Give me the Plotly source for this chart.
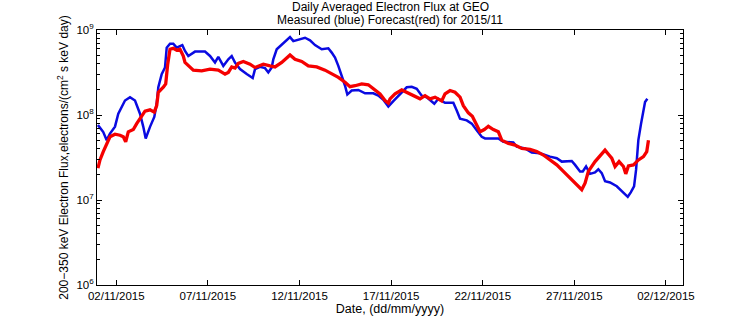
import pandas as pd
import plotly.graph_objects as go

# Day-of-month positions (November 2015, 1.0 = 01/11 00:00) and flux values
blue_day = [1.0, 1.29, 1.476, 1.656, 1.929, 2.109, 2.475, 2.748, 3.021, 3.294, 3.474, 3.605, 3.84, 4.074,
            4.205, 4.293, 4.478, 4.658, 4.751, 4.931, 5.111, 5.297, 5.477, 5.603, 5.75, 5.93, 6.296, 6.842,
            7.115, 7.388, 7.568, 7.841, 8.114, 8.299, 8.479, 8.752, 9.118, 9.445, 9.571, 9.844, 10.117,
            10.297, 10.483, 10.57, 10.756, 11.028, 11.301, 11.481, 11.662, 11.935, 12.3, 12.573, 12.846,
            13.212, 13.572, 13.758, 13.938, 14.118, 14.304, 14.484, 14.609, 14.849, 15.21, 15.576, 16.029,
            16.301, 16.574, 16.847, 17.12, 17.489, 17.852, 18.125, 18.398, 18.671, 18.943, 19.358, 19.576,
            19.942, 20.395, 20.581, 20.761, 21.127, 21.4, 21.672, 21.945, 22.126, 22.852, 23.125, 23.67,
            23.856, 24.309, 24.675, 25.128, 25.674, 26.04, 26.313, 26.585, 26.858, 27.038, 27.311, 27.459,
            27.639, 27.857, 28.13, 28.31, 28.496, 28.676, 28.949, 29.315, 29.675, 29.915, 30.079, 30.259,
            30.368, 30.493, 30.641, 30.766, 30.859, 30.984]
blue_flux = [7.6e7, 6.3e7, 5.06e7, 6.05e7, 7.3e7, 1.035e8, 1.48e8, 1.62e8, 1.48e8, 1.035e8, 7.25e7, 5.3e7,
             7.25e7, 9.5e7, 1.355e8, 2.12e8, 3.03e8, 3.62e8, 6.2e8, 6.9e8, 6.9e8, 6.2e8, 6.47e8, 6.65e8,
             5.66e8, 4.95e8, 5.57e8, 5.57e8, 4.95e8, 4.15e8, 4.82e8, 3.78e8, 4.53e8, 4.95e8, 4.15e8, 3.47e8,
             3.03e8, 2.72e8, 3.47e8, 3.68e8, 3.56e8, 3.17e8, 3.62e8, 4.53e8, 5.93e8, 6.78e8, 7.55e8, 8.24e8,
             7.4e8, 7.75e8, 8.11e8, 7.55e8, 6.65e8, 5.93e8, 6.09e8, 5.42e8, 4.74e8, 3.78e8, 2.9e8, 2.21e8,
             1.74e8, 1.94e8, 1.97e8, 1.8e8, 1.8e8, 1.69e8, 1.51e8, 1.26e8, 1.46e8, 1.77e8, 2.12e8, 2.15e8,
             2.03e8, 1.69e8, 1.62e8, 1.355e8, 1.55e8, 1.39e8, 1.39e8, 1.13e8, 9.06e7, 8.65e7, 7.92e7, 6.62e7,
             5.54e7, 5.3e7, 5.3e7, 4.84e7, 4.75e7, 4.24e7, 4.05e7, 3.61e7, 3.54e7, 3.24e7, 3.1e7, 2.83e7,
             2.83e7, 2.88e7, 2.59e7, 2.17e7, 2.17e7, 2.48e7, 2.03e7, 2.11e7, 2.3e7, 2.07e7, 1.66e7, 1.61e7,
             1.45e7, 1.23e7, 1.09e7, 1.23e7, 1.45e7, 2.26e7, 5.06e7, 7.92e7, 1.18e8, 1.42e8, 1.55e8]

red_day = [1.0, 1.11, 1.29, 1.476, 1.656, 1.929, 2.202, 2.382, 2.513, 2.655, 2.928, 3.114, 3.386, 3.567,
           3.84, 4.074, 4.205, 4.293, 4.566, 4.697, 4.806, 4.877, 4.931, 5.111, 5.297, 5.477, 5.657, 5.75,
           5.93, 6.203, 6.662, 7.115, 7.568, 7.934, 8.114, 8.299, 8.479, 8.659, 8.932, 9.118, 9.298, 9.571,
           10.024, 10.39, 10.663, 11.028, 11.481, 11.754, 12.12, 12.48, 12.939, 13.392, 13.758, 14.118,
           14.484, 14.757, 15.03, 15.395, 15.755, 16.029, 16.394, 16.667, 16.847, 16.94, 17.213, 17.579,
           17.852, 18.212, 18.578, 18.851, 19.124, 19.397, 19.762, 19.942, 20.215, 20.488, 20.761, 20.941,
           21.214, 21.432, 21.672, 21.852, 22.087, 22.306, 22.579, 22.852, 23.037, 23.397, 23.763, 24.129,
           24.582, 24.948, 25.308, 25.674, 26.04, 26.4, 26.858, 27.404, 27.584, 27.764, 28.13, 28.403,
           28.674, 28.894, 29.041, 29.221, 29.44, 29.68, 29.806, 29.953, 30.226, 30.499, 30.772, 30.952,
           31.045]
red_flux = [2.37e7, 2.96e7, 3.71e7, 4.63e7, 5.54e7, 5.94e7, 5.78e7, 5.54e7, 4.84e7, 6.34e7, 6.74e7, 7.92e7,
            9.5e7, 1.11e8, 1.15e8, 1.08e8, 1.29e8, 1.85e8, 2.12e8, 2.32e8, 3.96e8, 4.95e8, 5.93e8, 6.09e8,
            5.77e8, 5.93e8, 4.95e8, 4.15e8, 3.78e8, 3.37e8, 3.31e8, 3.47e8, 3.37e8, 3.03e8, 3.17e8, 3.68e8,
            3.56e8, 4.04e8, 4.26e8, 4.15e8, 3.96e8, 3.62e8, 3.96e8, 3.78e8, 3.68e8, 4.15e8, 5.08e8, 4.53e8,
            4.26e8, 3.78e8, 3.68e8, 3.37e8, 3.09e8, 2.77e8, 2.43e8, 2.15e8, 2.21e8, 2.32e8, 2.27e8, 2.03e8,
            1.77e8, 1.48e8, 1.38e8, 1.55e8, 1.77e8, 1.97e8, 1.85e8, 1.69e8, 1.55e8, 1.69e8, 1.55e8, 1.62e8,
            1.46e8, 1.77e8, 1.94e8, 1.85e8, 1.62e8, 1.29e8, 1.06e8, 9.64e7, 7.57e7, 6.34e7, 6.74e7, 7.36e7,
            6.74e7, 6.34e7, 5.06e7, 4.63e7, 4.43e7, 4.05e7, 3.94e7, 3.71e7, 3.38e7, 2.96e7, 2.59e7, 2.17e7,
            1.73e7, 1.32e7, 1.58e7, 2.17e7, 2.83e7, 3.29e7, 3.86e7, 3.38e7, 3.1e7, 2.48e7, 2.83e7, 2.48e7,
            2.03e7, 2.52e7, 2.59e7, 2.96e7, 3.24e7, 3.71e7, 5.06e7]

x_tick_days = [2, 7, 12, 17, 22, 27, 32]
y_tick_vals = [1e6, 1e7, 1e8, 1e9]
y_tick_text = ["10<sup>6</sup>", "10<sup>7</sup>", "10<sup>8</sup>", "10<sup>9</sup>"]
title_lines = ["Daily Averaged Electron Flux at GEO", "Measured (blue) Forecast(red) for 2015/11"]

base = pd.Timestamp("2015-11-01")


def to_date(days):
    return [base + pd.to_timedelta(d - 1, unit="D") for d in days]


x_range = to_date([0.947, 32.93])
x_ticks = to_date(x_tick_days)
minor_vals = [k * 10 ** n for n in (6, 7, 8) for k in range(2, 10)]

fig = go.Figure()
fig.add_trace(go.Scatter(x=to_date(blue_day), y=blue_flux, mode="lines",
                         line=dict(color="rgb(10,10,225)", width=2.5), showlegend=False))
fig.add_trace(go.Scatter(x=to_date(red_day), y=red_flux, mode="lines",
                         line=dict(color="rgb(245,0,0)", width=3.3), showlegend=False))

font = dict(family="Liberation Sans, Arial, sans-serif", size=11.5, color="black")

fig.update_layout(
    width=756, height=324,
    margin=dict(l=97, r=73, t=30, b=36),
    paper_bgcolor="white", plot_bgcolor="white",
    font=font,
)
# two-line title placed as annotations (pixel centres ~7 and ~20 from top)
for txt, ypx in zip(title_lines, [7, 20]):
    fig.add_annotation(text=txt, xref="paper", yref="paper", x=0.5, y=(288 - ypx) / 258,
                       xanchor="center", yanchor="middle", showarrow=False,
                       font=dict(size=12, color="black"))

fig.update_xaxes(
    type="date", range=x_range, tickvals=x_ticks, tickformat="%d/%m/%Y",
    showline=True, linecolor="black", linewidth=1, mirror="ticks",
    ticks="inside", ticklen=5, tickcolor="black", showgrid=False, zeroline=False,
    title=dict(text="Date, (dd/mm/yyyy)", standoff=1, font=dict(size=12.5)),
    tickfont=dict(size=11.5),
)
fig.update_yaxes(
    type="log", range=[6, 9], tickvals=y_tick_vals, ticktext=y_tick_text,
    showline=True, linecolor="black", linewidth=1, mirror="ticks",
    ticks="inside", ticklen=5, tickcolor="black", showgrid=False, zeroline=False,
    minor=dict(tickmode="array", tickvals=minor_vals, ticks="inside", ticklen=3,
               tickcolor="black", showgrid=False),
    title=dict(text="200\u2212350 keV Electron Flux,electrons/(cm<sup>2</sup> s keV day)",
               standoff=5, font=dict(size=12)),
    tickfont=dict(size=11.5),
)

fig.write_html("out.html")
